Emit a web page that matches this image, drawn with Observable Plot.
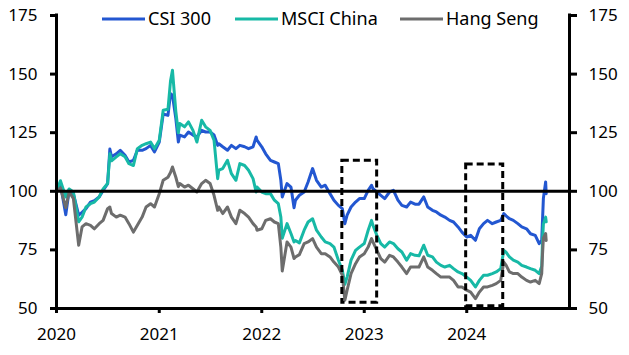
<!DOCTYPE html>
<html>
<head>
<meta charset="utf-8">
<script src="https://cdn.jsdelivr.net/npm/d3@7"></script>
<script src="https://cdn.jsdelivr.net/npm/@observablehq/plot@0.6"></script>
<style>
  html, body { margin: 0; padding: 0; background: #fff; }
  #chart { width: 629px; height: 355px; }
</style>
</head>
<body>
<div id="chart"></div>
<script>
// ---- data (rebased, Jan 2020 = 100) ----
const dates = [
  // 2020
  "2020-01-01","2020-01-15","2020-02-03","2020-02-15","2020-03-01","2020-03-20","2020-04-01","2020-04-15",
  "2020-05-01","2020-05-15","2020-06-01","2020-06-15","2020-07-01","2020-07-09","2020-07-15","2020-08-01",
  "2020-08-15","2020-09-01","2020-09-15","2020-10-01","2020-10-15","2020-11-01","2020-11-15","2020-12-01","2020-12-15",
  // 2021
  "2021-01-01","2021-01-15","2021-02-01","2021-02-10","2021-02-17","2021-03-01","2021-03-10","2021-03-15",
  "2021-04-01","2021-04-15","2021-05-01","2021-05-15","2021-06-01","2021-06-15","2021-07-01","2021-07-15",
  "2021-07-28","2021-08-01","2021-08-15","2021-09-01","2021-09-15","2021-10-01","2021-10-15","2021-11-01",
  "2021-11-15","2021-12-01","2021-12-12","2021-12-15",
  // 2022
  "2022-01-01","2022-01-15","2022-02-01","2022-02-15","2022-03-01","2022-03-10","2022-03-15","2022-04-01",
  "2022-04-15","2022-04-26","2022-05-01","2022-05-15","2022-06-01","2022-06-15","2022-07-01","2022-07-15",
  "2022-08-01","2022-08-15","2022-09-01","2022-09-15","2022-10-01","2022-10-15","2022-10-24","2022-11-01",
  "2022-11-15","2022-12-01","2022-12-15",
  // 2023
  "2023-01-01","2023-01-15","2023-01-27","2023-02-01","2023-02-15","2023-03-01","2023-03-15","2023-04-01",
  "2023-04-15","2023-05-01","2023-05-15","2023-06-01","2023-06-15","2023-07-01","2023-07-15","2023-08-01",
  "2023-08-15","2023-09-01","2023-09-15","2023-10-01","2023-10-15","2023-11-01","2023-11-15","2023-12-01","2023-12-15",
  // 2024
  "2024-01-01","2024-01-15","2024-02-01","2024-02-15","2024-03-01","2024-03-15","2024-04-01","2024-04-15",
  "2024-05-01","2024-05-12","2024-05-20","2024-06-01","2024-06-15","2024-07-01","2024-07-15","2024-08-01",
  "2024-08-15","2024-09-01","2024-09-15","2024-09-24","2024-09-27","2024-09-30","2024-10-08","2024-10-10"
];

const csi300 = [
  100,103,90,100.4,99,89.8,91,92.6,95.4,96,97.6,100.4,103.3,118,114.7,116,117.5,115.4,112.5,113.2,117.5,117.5,118.2,119.6,116.8,
  121,133,132.4,141.7,141,131,121,124,123.2,125.3,124,123.2,126,125.3,125.3,124,119.6,120.3,119,117.5,119.6,118.2,119.6,119,118.2,119,123.2,121.8,
  119,116,113.2,112.5,111.8,104.7,97.6,103.3,101.8,93,96.2,98.3,99.7,104,109.7,104.7,101.8,102.6,99,96.2,94,92.6,86.2,89.8,93.3,95.4,96.9,
  96.9,100.4,102.6,101.1,99.7,98.3,96.9,99.7,100.4,96.2,94,93.3,95.4,94.5,94.5,97.6,93.3,91.9,91.2,89.8,89,87.6,86.9,84.8,82.6,
  80.5,81.2,79.1,84,86.2,87.6,86.2,86.9,87.6,90.5,89.5,88.3,87.6,86.2,84.8,84,81.9,81.2,77.7,79,88,97,104,99
];

const msciChina = [
  100,104.5,97.6,101,99.7,87,89,93.3,94.7,95.4,97.6,101,103.3,116,113,114.7,116,114.7,111.8,111,118.2,119.6,120.3,121,118.2,
  121.8,134.6,135,147,151.6,134,125,128.9,127.5,129.6,126,121,130.3,127.5,126,121.8,105.4,109,109.7,113.2,107.5,104.7,111.8,111,109,105.4,99.7,101.8,
  99.7,99,99,96.2,94.7,89,80,86.2,82,78.4,79,78,83.4,86.9,88.3,83.4,80.5,78.4,77.7,76.2,70.6,66.3,60.3,63.4,70.6,74.8,76.2,
  77.7,83.4,87.6,85.5,81.2,77.7,76.2,78.4,77.7,75.5,74.1,70.6,73.4,72.7,72.5,77,72.7,72,69.8,68.4,67.7,68.4,67,65.6,64.9,
  63.4,62,59.2,62,64.2,64.2,64.9,65.6,67,74.8,74,72,70.6,69.8,68.4,67.7,67,66.3,64.9,68,79,86,89,87
];

const hangSeng = [
  100,101.5,93,99.7,97,77,84.8,86.2,85.5,84,86.2,87.6,92.6,93.3,90.5,89,89.8,89,86.2,82.6,85.5,89,93.3,94.7,93.3,
  99,104.7,106,108,110.4,106,102,103.3,101.8,102.6,101.1,99.7,103.3,104.7,103.3,98.3,91.9,93.3,90.5,93.3,89,86.2,91.9,90.5,89,86.2,84.8,83.4,
  84,87.6,88.3,86.9,86.2,76.2,66,78.4,76.2,71.3,72,73,77.7,78.4,79.8,76.2,73.4,73.4,72,69.8,67.7,64.2,53.5,57.8,64.9,69.1,72,
  73.4,76.2,79.8,78.4,74.8,71.3,69.8,72.7,72,69.8,67.7,64.9,67.7,67.7,67.7,72,67.7,66.3,64.9,63.4,63.4,63.4,62,59.2,59.2,
  57.8,57,54.2,57,59.2,59.2,59.9,60.6,62,69.8,68.5,65.6,64.9,64.9,63.4,62,61.3,62,60.6,64.9,73.4,80,82,79
];

const seriesNames = ["CSI 300", "MSCI China", "Hang Seng"];
const seriesColors = ["#2357d1", "#17b9a6", "#6d6d6d"];

const yTicks = [50, 75, 100, 125, 150, 175];
const yDomain = [50, 175];
const xTicks = ["2020-01-01", "2021-01-01", "2022-01-01", "2023-01-01", "2024-01-01"];
const xDomain = ["2020-01-01", "2025-01-01"];
const refLevel = [100];

// highlighted periods (dashed boxes)
const boxStart = ["2022-10-15", "2023-12-30"];
const boxEnd   = ["2023-02-16", "2024-05-10"];
const boxLow   = [52.4, 51];
const boxHigh  = [113, 111.4];

// ---- build ----
const parse = d3.utcParse("%Y-%m-%d");
const rows = [];
[csi300, msciChina, hangSeng].forEach((vals, i) => {
  vals.forEach((v, j) => rows.push({ date: parse(dates[j]), value: v, series: seriesNames[i] }));
});
const boxes = boxStart.map((s, i) => ({ x1: parse(s), x2: parse(boxEnd[i]), y1: boxLow[i], y2: boxHigh[i] }));

const FONT = "'Noto Sans', 'Open Sans', sans-serif";

const chart = Plot.plot({
  width: 629,
  height: 355,
  marginLeft: 56,
  marginRight: 60,
  marginTop: 15,
  marginBottom: 47,
  style: { fontFamily: FONT, fontSize: "17px", color: "#000", background: "#fff", overflow: "visible" },
  x: { type: "utc", domain: xDomain.map(parse) },
  y: { domain: yDomain },
  color: { domain: seriesNames, range: seriesColors },
  marks: [
    Plot.line(rows, { x: "date", y: "value", z: "series", stroke: "series", strokeWidth: 3, strokeLinejoin: "round" }),
    Plot.ruleY(refLevel, { stroke: "#000", strokeWidth: 3 }),
    Plot.rect(boxes, { x1: "x1", x2: "x2", y1: "y1", y2: "y2", fill: "none", stroke: "#000", strokeWidth: 3, strokeDasharray: "7,4" }),
    Plot.ruleX(xDomain.map(parse), { stroke: "#000", strokeWidth: 3, strokeLinecap: "square" }),
    Plot.ruleY([yDomain[0]], { stroke: "#000", strokeWidth: 3, strokeLinecap: "square" }),
    Plot.axisY({ anchor: "left", ticks: yTicks, tickSize: 6, tickPadding: 13, strokeWidth: 3, fontSize: 17, label: null }),
    Plot.axisY({ anchor: "right", ticks: yTicks, tickSize: 7, tickPadding: 12, strokeWidth: 3, fontSize: 17, label: null }),
    Plot.axisX({ ticks: xTicks.map(parse), tickFormat: d3.utcFormat("%Y"), tickSize: 5, tickPadding: 14, strokeWidth: 3, fontSize: 17, label: null })
  ]
});

document.getElementById("chart").appendChild(chart);

// ---- legend (inside the top of the chart) ----
const svg = d3.select(chart);
const legendX = [102, 235, 400];
const lg = svg.append("g").attr("font-family", FONT).attr("font-size", 18).attr("text-anchor", "start");
seriesNames.forEach((name, i) => {
  lg.append("line")
    .attr("x1", legendX[i]).attr("x2", legendX[i] + 43)
    .attr("y1", 19).attr("y2", 19)
    .attr("stroke", seriesColors[i]).attr("stroke-width", 3);
  lg.append("text")
    .attr("x", legendX[i] + 46).attr("y", 25)
    .attr("fill", "#000")
    .attr("text-anchor", "start")
    .text(name);
});
</script>
</body>
</html>
